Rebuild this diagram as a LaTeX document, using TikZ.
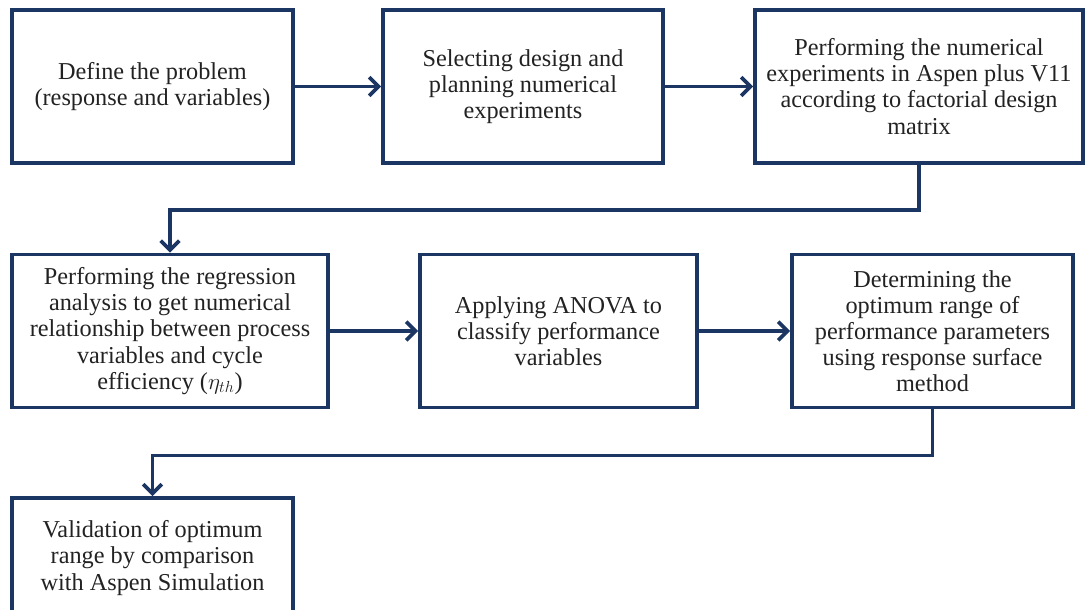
\documentclass[tikz,border=0pt]{standalone}
\usepackage{fontspec}
\setmainfont{Liberation Serif}
\usetikzlibrary{arrows.meta, calc}
\definecolor{navy}{RGB}{28,54,100}
\definecolor{txt}{RGB}{34,34,34}

\begin{document}
\begin{tikzpicture}[x=0.75pt, y=-0.75pt, >={Straight Barb[length=7pt,width=14pt]},
	line cap=butt, line join=miter,
	font=\fontsize{18.2}{19.6}\selectfont,
	stepbox/.style={draw=navy, line width=2.9pt, text=txt, align=center,
		inner sep=0pt, minimum height=114.75pt},
	flow/.style={->, draw=navy, line width=2.7pt}]
	
	\useasboundingbox (0,0) rectangle (1086,610);
	
	%========================
	% Row 1
	%========================
	\node[stepbox, minimum width=210.75pt] (define) at (152.5,86.5)
	{Define the problem\\(response and variables)};
	\node[stepbox, minimum width=210pt] (select) at (523,86.5)
	{Selecting design and\\planning numerical\\experiments};
	\node[stepbox, minimum width=246pt] (aspen) at (919,86.5)
	{Performing the numerical\\experiments in Aspen plus V11\\according to factorial design\\matrix};
	
	%========================
	% Row 2
	%========================
	\node[stepbox, minimum width=237pt] (regress) at (170,331)
	{Performing the regression\\analysis to get numerical\\relationship between process\\variables and cycle\\efficiency ($\eta_{th}$)};
	\node[stepbox, minimum width=207.75pt] (anova) at (558.5,331)
	{Applying ANOVA to\\classify performance\\variables};
	\node[stepbox, minimum width=210.75pt] (optimum) at (932.5,331)
	{Determining the\\optimum range of\\performance parameters\\using response surface\\method};
	
	%========================
	% Row 3 (cut at the bottom edge)
	%========================
	\node[stepbox, minimum width=210.75pt, minimum height=90pt] (valid) at (152.5,558)
	{Validation of optimum\\range by comparison\\with Aspen Simulation};
	
	% connectors
	\draw[flow] (define) -- (select);
	\draw[flow] (select) -- (aspen);
	\draw[flow] (aspen.south) -- ++(0,45) -| (regress.north);
	\draw[flow] (regress) -- (anova);
	\draw[flow] (anova) -- (optimum);
	\draw[flow] (optimum.south) -- ++(0,46) -| (valid.north);
	
\end{tikzpicture}
\end{document}
